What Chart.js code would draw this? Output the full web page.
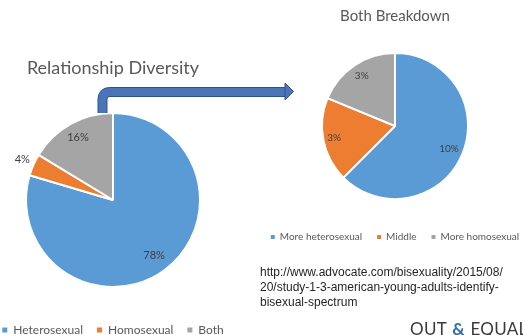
<!DOCTYPE html>
<html>
<head>
<meta charset="utf-8">
<script src="https://cdn.jsdelivr.net/npm/chart.js@4.4.1/dist/chart.umd.min.js"></script>
<style>
  html, body { margin: 0; padding: 0; background: #fff; }
  body { width: 523px; height: 335px; position: relative; overflow: hidden; }
  canvas { position: absolute; }
  #left { left: -37px; top: 50px; }
  #right { left: 240px; top: 0; }
  #arrow { position: absolute; left: 0; top: 0; }
  #src {
    position: absolute; left: 260px; top: 265px;
    font: 12px "Liberation Sans", Arial, sans-serif; line-height: 15px; color: #262626;
  }
  #logo {
    position: absolute; left: 410px; top: 318px; white-space: nowrap;
    font: 17px Lato, sans-serif; color: #3a3a3a; letter-spacing: 0.3px;
  }
  #logo b { color: #2a6db5; font-weight: bold; margin: 0 1px; }
</style>
</head>
<body>
<canvas id="left" width="300" height="296"></canvas>
<canvas id="right" width="310" height="252"></canvas>
<svg id="arrow" width="523" height="335">
  <path d="M102.5 113 V100 Q102.5 92 110.5 92 H286" fill="none" stroke="#2f528f" stroke-width="10"/>
  <path d="M102.5 113 V100 Q102.5 92 110.5 92 H286" fill="none" stroke="#4a76b8" stroke-width="8"/>
  <polygon points="285,83 293.5,91.5 285,100" fill="#4a76b8" stroke="#2f528f" stroke-width="1"/>
</svg>
<div id="src">http://www.advocate.com/bisexuality/2015/08/<br>20/study-1-3-american-young-adults-identify-<br>bisexual-spectrum</div>
<div id="logo">OUT <b>&amp;</b> EQUAL</div>
<script>
// Relationship Diversity
const mainLabels = ['Heterosexual', 'Homosexual', 'Both'];
const mainValues = [78, 4, 16];

// Both Breakdown
const bothLabels = ['More heterosexual', 'Middle', 'More homosexual'];
const bothValues = [10, 3, 3];

const colors = ['#5b9bd5', '#ed7d31', '#a5a5a5'];

// draws the % text on each slice, at a fraction of the radius
function pctLabels(dist, font) {
  return {
    id: 'pctLabels',
    afterDatasetsDraw(chart) {
      let ctx = chart.ctx;
      let values = chart.data.datasets[0].data;
      ctx.save();
      ctx.font = font;
      ctx.fillStyle = '#404040';
      ctx.textAlign = 'center';
      ctx.textBaseline = 'middle';
      chart.getDatasetMeta(0).data.forEach((arc, i) => {
        let { x, y, startAngle, endAngle, outerRadius } =
          arc.getProps(['x', 'y', 'startAngle', 'endAngle', 'outerRadius'], true);
        let mid = (startAngle + endAngle) / 2;
        let d = outerRadius * dist[i];
        ctx.fillText(values[i] + '%', x + Math.cos(mid) * d, y + Math.sin(mid) * d);
      });
      ctx.restore();
    }
  };
}

function legendNoBorder(chart) {
  let items = Chart.controllers.pie.overrides.plugins.legend.labels.generateLabels(chart);
  items.forEach(it => { it.lineWidth = 0; });
  return items;
}

new Chart(document.getElementById('left'), {
  type: 'pie',
  data: {
    labels: mainLabels,
    datasets: [{
      data: mainValues,
      backgroundColor: colors,
      borderColor: '#fff',
      borderWidth: 2,
      radius: 87
    }]
  },
  options: {
    responsive: false,
    animation: false,
    plugins: {
      tooltip: { enabled: false },
      title: {
        display: true,
        text: 'Relationship Diversity',
        color: '#595959',
        font: { family: 'Lato', size: 18, weight: 'normal' },
        padding: { top: 7.2, bottom: 11.2 }
      },
      legend: {
        position: 'bottom',
        labels: {
          boxWidth: 5, boxHeight: 5, padding: 14,
          color: '#595959',
          font: { family: 'Lato', size: 12 },
          generateLabels: legendNoBorder
        }
      }
    }
  },
  plugins: [pctLabels([0.79, 1.14, 0.82], '11px Lato')]
});

new Chart(document.getElementById('right'), {
  type: 'pie',
  data: {
    labels: bothLabels,
    datasets: [{
      data: bothValues,
      backgroundColor: colors,
      borderColor: '#fff',
      borderWidth: 2,
      radius: 73
    }]
  },
  options: {
    responsive: false,
    animation: false,
    plugins: {
      tooltip: { enabled: false },
      title: {
        display: true,
        text: 'Both Breakdown',
        color: '#595959',
        font: { family: 'Lato', size: 15, weight: 'normal' },
        padding: { top: 7.5, bottom: 9.5 }
      },
      legend: {
        position: 'bottom',
        labels: {
          boxWidth: 4, boxHeight: 4, padding: 15,
          color: '#595959',
          font: { family: 'Lato', size: 10 },
          generateLabels: legendNoBorder
        }
      }
    }
  },
  plugins: [pctLabels([0.8, 0.85, 0.82], '10px Lato')]
});
</script>
</body>
</html>
